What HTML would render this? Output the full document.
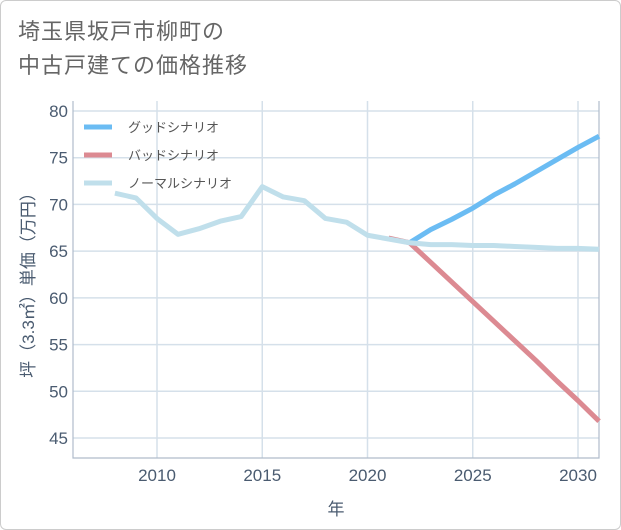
<!DOCTYPE html>
<html><head><meta charset="utf-8"><style>
body{margin:0;background:#fff;}
#wrap{position:relative;width:621px;height:530px;box-sizing:border-box;border:1px solid #ccc;border-radius:6px;background:#fff;overflow:hidden;font-family:"Liberation Sans","Noto Sans CJK JP",sans-serif;}
#title{position:absolute;left:17px;top:14px;font-size:22px;line-height:34px;color:#666;letter-spacing:1px;}
svg{position:absolute;left:0;top:0;}
</style></head><body>
<div id="wrap">
<div id="title">埼玉県坂戸市柳町の<br>中古戸建ての価格推移</div>
<svg id="chart" width="621" height="530"></svg>
</div>
<script>
const xTicks=[2010,2015,2020,2025,2030];
const yTicks=[45,50,55,60,65,70,75,80];
const normalYears=[2008,2009,2010,2011,2012,2013,2014,2015,2016,2017,2018,2019,2020,2021,2022,2023,2024,2025,2026,2027,2028,2029,2030,2031];
const normalVals=[71.2,70.7,68.5,66.8,67.4,68.2,68.7,71.9,70.8,70.4,68.5,68.1,66.7,66.3,65.9,65.7,65.7,65.6,65.6,65.5,65.4,65.3,65.3,65.2];
const goodYears=[2022,2023,2024,2025,2026,2027,2028,2029,2030,2031];
const goodVals=[65.9,67.3,68.4,69.6,71.0,72.2,73.5,74.8,76.1,77.3];
const badYears=[2021,2022,2023,2024,2025,2026,2027,2028,2029,2030,2031];
const badVals=[66.4,65.9,63.8,61.7,59.6,57.5,55.4,53.3,51.1,49.0,46.8];
const legendLabels=["グッドシナリオ","バッドシナリオ","ノーマルシナリオ"];
const L=72,R=598,T=100,B=457;
const x=v=>156+(v-2010)*(577-156)/20;
const y=v=>110+(80-v)*(437-110)/35;
const svg=document.getElementById('chart');
const NS='http://www.w3.org/2000/svg';
function mk(t,a,p){const e=document.createElementNS(NS,t);for(const k in a)e.setAttribute(k,a[k]);(p||svg).appendChild(e);return e;}
xTicks.forEach(v=>{
 const g=mk('line',{x1:x(v),x2:x(v),y1:T,y2:B,stroke:'#d5e0ea','stroke-width':1.5});
 
 
 const t=mk('text',{x:x(v),y:B+23,'text-anchor':'middle','font-size':17,fill:'#4a5b70'});t.textContent=v;
 
 
});
yTicks.forEach(v=>{
 const g=mk('line',{x1:L,x2:R,y1:y(v),y2:y(v),stroke:'#d5e0ea','stroke-width':1.5});
 
 
 const t=mk('text',{x:L-5,y:y(v)+6,'text-anchor':'end','font-size':17,fill:'#4a5b70'});t.textContent=v;
 
 
});
const ax=mk('path',{d:`M${L} ${T}V${B}H${R}V${T}`,fill:'none',stroke:'#b0bccb','stroke-width':1.2});


function line(ys,vs,c,n){const p=mk('polyline',{points:ys.map((yr,i)=>x(yr)+','+y(vs[i])).join(' '),fill:'none',stroke:c,'stroke-width':5,'stroke-linejoin':'round'});
 
 }
line(badYears,badVals,'#dc8a92','bad-scenario-line');
line(goodYears,goodVals,'#6bbcf3','good-scenario-line');
line(normalYears,normalVals,'#c0dfeb','normal-scenario-line');
const cols=['#6bbcf3','#dc8a92','#c0dfeb'];
legendLabels.forEach((lab,i)=>{
 const yy=126+i*28;
 const l=mk('line',{x1:83,x2:111,y1:yy,y2:yy,stroke:cols[i],'stroke-width':5});
 
 
 const t=mk('text',{x:127,y:yy+5,'font-size':13,fill:'#555'});t.textContent=lab;
 
 
});
const xt=mk('text',{x:335,y:514,'text-anchor':'middle','font-size':17,fill:'#4a5b70'});xt.textContent='年';


const yt=mk('text',{x:0,y:0,'text-anchor':'middle','font-size':17,fill:'#4a5b70',transform:'translate(33,280) rotate(-90)'});yt.textContent='坪（3.3㎡）単価（万円）';


</script>
</body></html>
